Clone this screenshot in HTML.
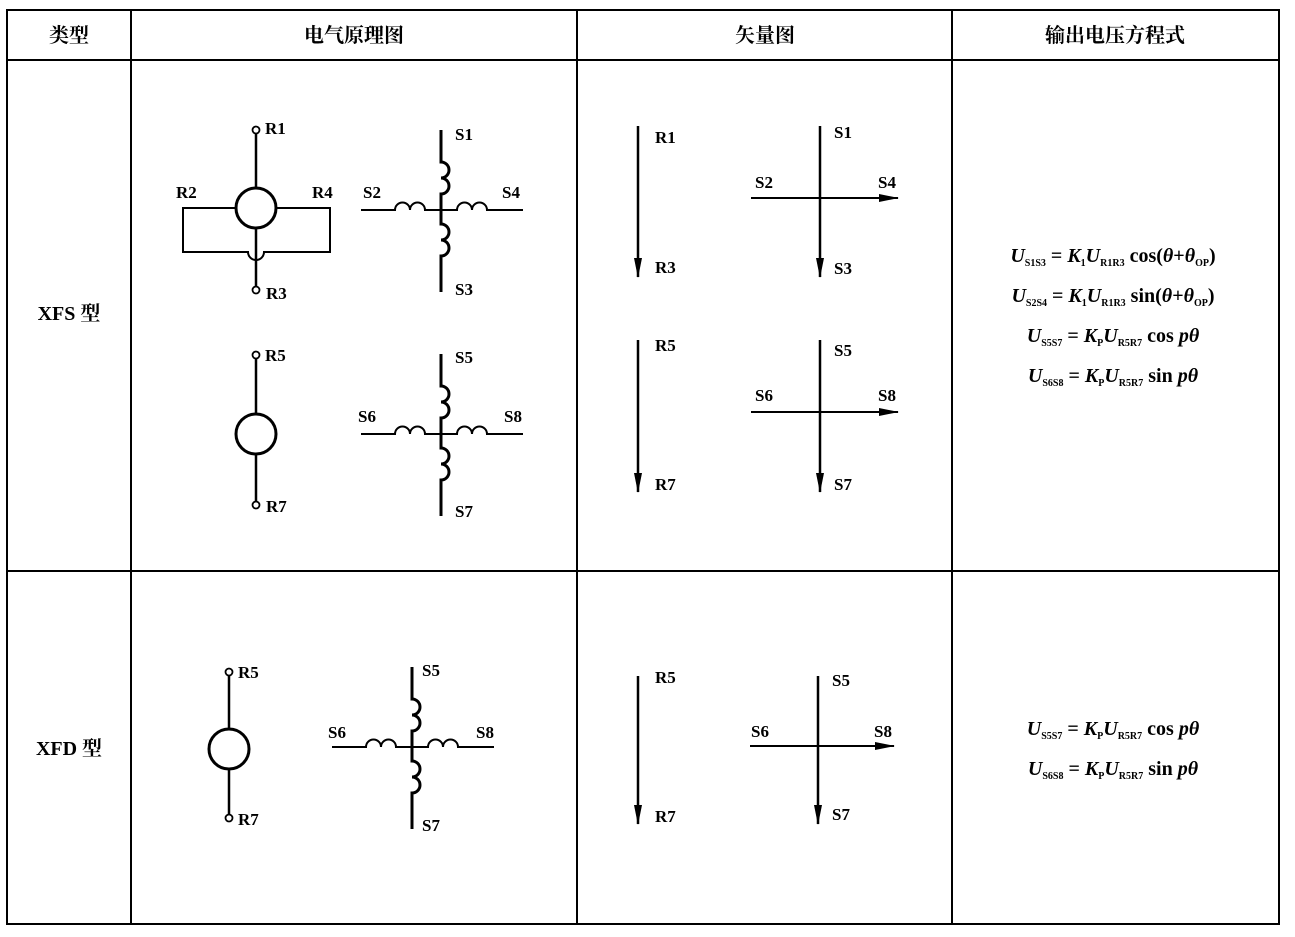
<!DOCTYPE html>
<html><head><meta charset="utf-8"><style>
html,body{margin:0;padding:0;background:#fff;}
svg{display:block;}
.l{font-family:"Liberation Serif",serif;font-weight:bold;font-size:17px;fill:#000;}
.h{font-family:"Liberation Serif","Noto Serif CJK SC","Noto Sans CJK SC",serif;font-weight:bold;font-size:20px;fill:#000;}
.e{font-family:"Liberation Serif",serif;font-weight:bold;font-size:20px;fill:#000;}
.ei{font-style:italic;}
.s{font-size:10px;}
</style></head><body>
<svg width="1295" height="937" viewBox="0 0 1295 937" xmlns="http://www.w3.org/2000/svg">
<defs>
<marker id="a" markerWidth="10" markerHeight="8" refX="9" refY="4" orient="auto" markerUnits="userSpaceOnUse" viewBox="0 0 10 8">
<path d="M0,0 L10,4 L0,8 Z" fill="#000"/></marker>
<marker id="b" markerWidth="20" markerHeight="8" refX="19" refY="4" orient="auto" markerUnits="userSpaceOnUse" viewBox="0 0 20 8">
<path d="M0,0 L20,4 L0,8 Z" fill="#000"/></marker>
<g id="coil">
<!-- center at 0,0 -->
<path d="M0,-80 V-48 a8,8 0 0 1 0,16 a8,8 0 0 1 0,16 V14 a8,8 0 0 1 0,16 a8,8 0 0 1 0,16 V82" fill="none" stroke="#000" stroke-width="3"/>
<path d="M-80,0 H-46 a7.5,7.5 0 0 1 15,0 a7.5,7.5 0 0 1 15,0 H16 a7.5,7.5 0 0 1 15,0 a7.5,7.5 0 0 1 15,0 H82" fill="none" stroke="#000" stroke-width="2"/>
</g>
</defs>
<g stroke="#000" stroke-width="2" fill="none">
<rect x="7" y="10" width="1272" height="914"/>
<line x1="7" y1="60" x2="1279" y2="60"/>
<line x1="7" y1="571" x2="1279" y2="571"/>
<line x1="131" y1="10" x2="131" y2="924"/>
<line x1="577" y1="10" x2="577" y2="924"/>
<line x1="952" y1="10" x2="952" y2="924"/>
</g>
<text class="h" x="69" y="42" text-anchor="middle">类型</text>
<text class="h" x="354" y="42" text-anchor="middle">电气原理图</text>
<text class="h" x="765" y="42" text-anchor="middle">矢量图</text>
<text class="h" x="1115" y="42" text-anchor="middle">输出电压方程式</text>
<text class="h" x="69" y="320" text-anchor="middle">XFS 型</text>
<text class="h" x="69" y="755" text-anchor="middle">XFD 型</text>

<!-- XFS resolver 1 -->
<g stroke="#000" stroke-width="2.5" fill="none">
<circle cx="256" cy="130" r="3.5" stroke-width="1.8"/>
<line x1="256" y1="134" x2="256" y2="188"/>
<circle cx="256" cy="208" r="20" stroke-width="3"/>
<path d="M236,208 H183 V252 H248 a8,8 0 0 0 16,0 H330 V208 H276" stroke-width="2"/>
<line x1="256" y1="228" x2="256" y2="286"/>
<circle cx="256" cy="290" r="3.5" stroke-width="1.8"/>
</g>
<text class="l" x="265" y="134">R1</text>
<text class="l" x="176" y="198">R2</text>
<text class="l" x="312" y="198">R4</text>
<text class="l" x="266" y="299">R3</text>
<use href="#coil" x="441" y="210"/>
<text class="l" x="455" y="140">S1</text>
<text class="l" x="363" y="198">S2</text>
<text class="l" x="502" y="198">S4</text>
<text class="l" x="455" y="295">S3</text>

<!-- XFS resolver 2 -->
<g stroke="#000" stroke-width="2.5" fill="none">
<circle cx="256" cy="355" r="3.5" stroke-width="1.8"/>
<line x1="256" y1="359" x2="256" y2="414"/>
<circle cx="256" cy="434" r="20" stroke-width="3"/>
<line x1="256" y1="454" x2="256" y2="501"/>
<circle cx="256" cy="505" r="3.5" stroke-width="1.8"/>
</g>
<text class="l" x="265" y="361">R5</text>
<text class="l" x="266" y="512">R7</text>
<use href="#coil" x="441" y="434"/>
<text class="l" x="455" y="363">S5</text>
<text class="l" x="358" y="422">S6</text>
<text class="l" x="504" y="422">S8</text>
<text class="l" x="455" y="517">S7</text>

<!-- XFD resolver -->
<g stroke="#000" stroke-width="2.5" fill="none">
<circle cx="229" cy="672" r="3.5" stroke-width="1.8"/>
<line x1="229" y1="676" x2="229" y2="729"/>
<circle cx="229" cy="749" r="20" stroke-width="3"/>
<line x1="229" y1="769" x2="229" y2="814"/>
<circle cx="229" cy="818" r="3.5" stroke-width="1.8"/>
</g>
<text class="l" x="238" y="678">R5</text>
<text class="l" x="238" y="825">R7</text>
<use href="#coil" x="412" y="747"/>
<text class="l" x="422" y="676">S5</text>
<text class="l" x="328" y="738">S6</text>
<text class="l" x="476" y="738">S8</text>
<text class="l" x="422" y="831">S7</text>

<!-- vectors -->
<g stroke="#000" stroke-width="2.5" fill="none">
<line x1="638" y1="126" x2="638" y2="277" marker-end="url(#b)"/>
<line x1="820" y1="126" x2="820" y2="277" marker-end="url(#b)"/>
<line x1="751" y1="198" x2="898" y2="198" stroke-width="2" marker-end="url(#b)"/>
<line x1="638" y1="340" x2="638" y2="492" marker-end="url(#b)"/>
<line x1="820" y1="340" x2="820" y2="492" marker-end="url(#b)"/>
<line x1="751" y1="412" x2="898" y2="412" stroke-width="2" marker-end="url(#b)"/>
<line x1="638" y1="676" x2="638" y2="824" marker-end="url(#b)"/>
<line x1="818" y1="676" x2="818" y2="824" marker-end="url(#b)"/>
<line x1="750" y1="746" x2="894" y2="746" stroke-width="2" marker-end="url(#b)"/>
</g>
<text class="l" x="655" y="143">R1</text><text class="l" x="655" y="273">R3</text>
<text class="l" x="834" y="138">S1</text><text class="l" x="755" y="188">S2</text>
<text class="l" x="878" y="188">S4</text><text class="l" x="834" y="274">S3</text>
<text class="l" x="655" y="351">R5</text><text class="l" x="655" y="490">R7</text>
<text class="l" x="834" y="356">S5</text><text class="l" x="755" y="401">S6</text>
<text class="l" x="878" y="401">S8</text><text class="l" x="834" y="490">S7</text>
<text class="l" x="655" y="683">R5</text><text class="l" x="655" y="822">R7</text>
<text class="l" x="832" y="686">S5</text><text class="l" x="751" y="737">S6</text>
<text class="l" x="874" y="737">S8</text><text class="l" x="832" y="820">S7</text>

<!-- equations -->
<text class="e" x="1113" y="262" text-anchor="middle"><tspan class="ei">U</tspan><tspan class="s" dy="4">S1S3</tspan><tspan dy="-4"> = </tspan><tspan class="ei">K</tspan><tspan class="s" dy="4">1</tspan><tspan class="ei" dy="-4">U</tspan><tspan class="s" dy="4">R1R3</tspan><tspan dy="-4"> cos(</tspan><tspan class="ei">θ</tspan>+<tspan class="ei">θ</tspan><tspan class="s" dy="4">OP</tspan><tspan dy="-4">)</tspan></text>
<text class="e" x="1113" y="302" text-anchor="middle"><tspan class="ei">U</tspan><tspan class="s" dy="4">S2S4</tspan><tspan dy="-4"> = </tspan><tspan class="ei">K</tspan><tspan class="s" dy="4">1</tspan><tspan class="ei" dy="-4">U</tspan><tspan class="s" dy="4">R1R3</tspan><tspan dy="-4"> sin(</tspan><tspan class="ei">θ</tspan>+<tspan class="ei">θ</tspan><tspan class="s" dy="4">OP</tspan><tspan dy="-4">)</tspan></text>
<text class="e" x="1113" y="342" text-anchor="middle"><tspan class="ei">U</tspan><tspan class="s" dy="4">S5S7</tspan><tspan dy="-4"> = </tspan><tspan class="ei">K</tspan><tspan class="s" dy="4">P</tspan><tspan class="ei" dy="-4">U</tspan><tspan class="s" dy="4">R5R7</tspan><tspan dy="-4"> cos </tspan><tspan class="ei">pθ</tspan></text>
<text class="e" x="1113" y="382" text-anchor="middle"><tspan class="ei">U</tspan><tspan class="s" dy="4">S6S8</tspan><tspan dy="-4"> = </tspan><tspan class="ei">K</tspan><tspan class="s" dy="4">P</tspan><tspan class="ei" dy="-4">U</tspan><tspan class="s" dy="4">R5R7</tspan><tspan dy="-4"> sin </tspan><tspan class="ei">pθ</tspan></text>
<text class="e" x="1113" y="735" text-anchor="middle"><tspan class="ei">U</tspan><tspan class="s" dy="4">S5S7</tspan><tspan dy="-4"> = </tspan><tspan class="ei">K</tspan><tspan class="s" dy="4">P</tspan><tspan class="ei" dy="-4">U</tspan><tspan class="s" dy="4">R5R7</tspan><tspan dy="-4"> cos </tspan><tspan class="ei">pθ</tspan></text>
<text class="e" x="1113" y="775" text-anchor="middle"><tspan class="ei">U</tspan><tspan class="s" dy="4">S6S8</tspan><tspan dy="-4"> = </tspan><tspan class="ei">K</tspan><tspan class="s" dy="4">P</tspan><tspan class="ei" dy="-4">U</tspan><tspan class="s" dy="4">R5R7</tspan><tspan dy="-4"> sin </tspan><tspan class="ei">pθ</tspan></text>
</svg>
</body></html>
